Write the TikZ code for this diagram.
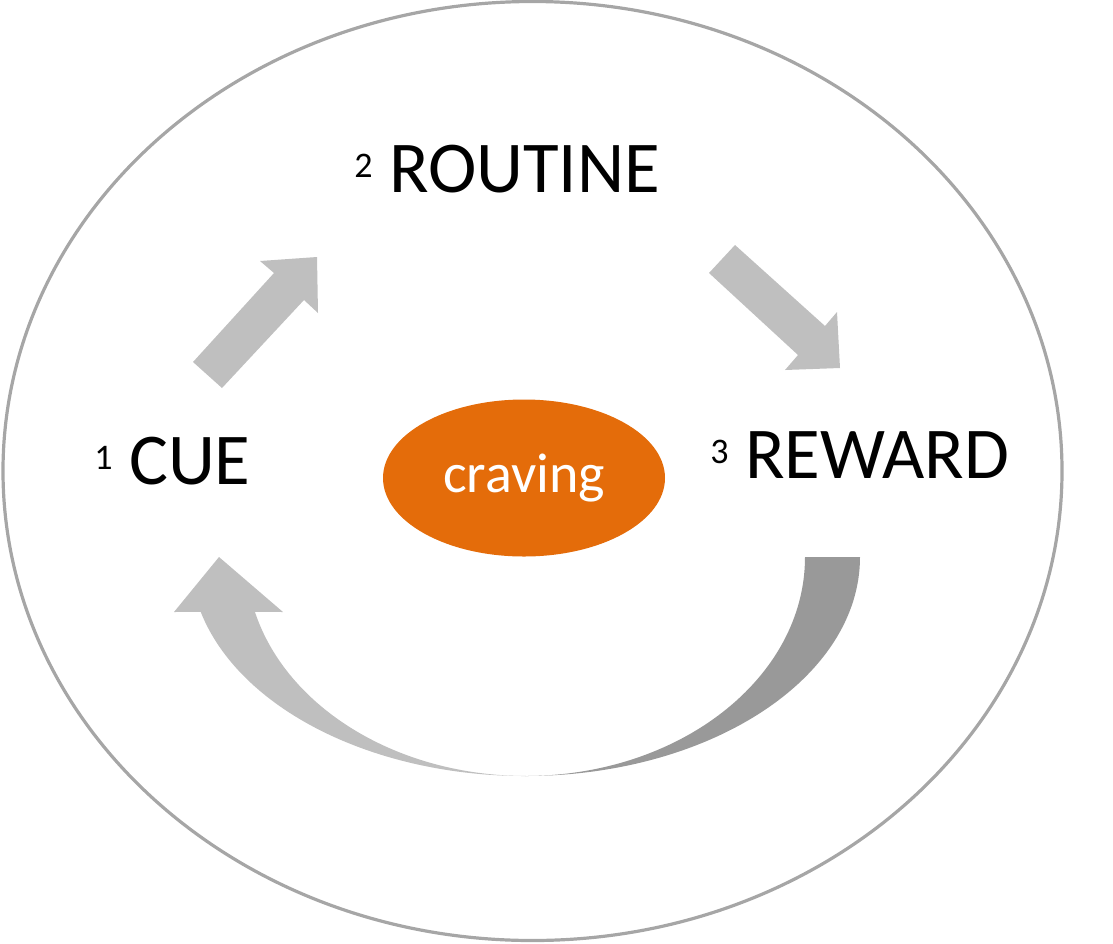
\documentclass[tikz,border=0pt]{standalone}
\usepackage{fontspec}
\setmainfont{Carlito}
\usepackage{tikz}
\usetikzlibrary{shapes.geometric}

\definecolor{ringgray}{HTML}{A6A6A6}
\definecolor{arrowlight}{HTML}{BFBFBF}
\definecolor{arrowdark}{HTML}{999999}
\definecolor{cravingorange}{HTML}{E46C0A}

\newcommand{\stepno}[1]{\raisebox{7.5pt}{\fontsize{18}{22}\selectfont #1}}

\begin{document}
\begin{tikzpicture}[x=0.5pt,y=-0.5pt,
  steplabel/.style={anchor=base west,inner sep=0pt,font=\fontsize{36.5}{44}\selectfont},
  blockarrow/.style={fill=arrowlight},
  returnpart/.style={fill=arrowdark}]
\useasboundingbox (0,0) rectangle (1113,943);

% outer ring
\draw[ringgray,line width=1.6pt] (532.5,471) ellipse [x radius=264.75pt,y radius=234.75pt];

% the three steps
\node[steplabel] (routine) at (354,192) {\stepno{2} ROUTINE};
\node[steplabel] (cue) at (94,484) {\stepno{1} CUE};
\node[steplabel] (reward) at (710,478) {\stepno{3} REWARD};

% centre
\node[ellipse,fill=cravingorange,text=white,inner sep=0pt,
  minimum width=141pt,minimum height=78.5pt,
  font=\fontsize{28}{34}\selectfont] (craving) at (524,478) {craving};

% cue -> routine
\path[blockarrow] (193,362) -- (274,273) -- (260,261) -- (317,257) -- (318,313) -- (304,300) -- (222,388) -- cycle;
% routine -> reward
\path[blockarrow] (735,245) -- (825,326) -- (837,312) -- (840,368) -- (785,370) -- (798,355) -- (709,273) -- cycle;

% reward -> cue
\path[returnpart] (805,557) -- (860,557)
  arc[start angle=0,end angle=-90,x radius=167.5pt,y radius=109.5pt]
  arc[start angle=-90,end angle=0,x radius=140pt,y radius=109.5pt] -- cycle;
\path[blockarrow] (525,776)
  arc[start angle=-90,end angle=-165.5,x radius=167.5pt,y radius=109.5pt]
  -- (174,612) -- (219,557) -- (283,612) -- (254.9,611.8)
  arc[start angle=-165.5,end angle=-90,x radius=140pt,y radius=109.5pt] -- cycle;

\end{tikzpicture}
\end{document}
